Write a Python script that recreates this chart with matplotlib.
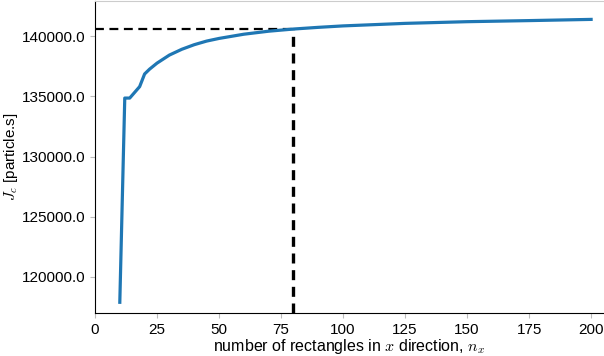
import matplotlib
matplotlib.use("Agg")
import matplotlib.pyplot as plt

# values
n_x = [10, 12, 14, 18, 20, 22, 25, 30, 35, 40, 45, 50, 60, 70, 80,
       90, 100, 125, 150, 175, 200]
J_c = [117900, 134850, 134850, 135800, 136850, 137250, 137750, 138420,
       138900, 139280, 139580, 139800, 140150, 140400, 140580,
       140720, 140840, 141050, 141190, 141280, 141380]
n_sel = 80
J_sel = 140580

plt.rcParams["font.family"] = "Liberation Sans"
plt.rcParams["mathtext.fontset"] = "cm"

fig = plt.figure(figsize=(6.04, 3.56), dpi=100)
ax = fig.add_axes([95 / 604, 1 - 313 / 356, 1 - 95 / 604, 312 / 356])

ax.plot(n_x, J_c, color="#1f77b4", lw=2.3, zorder=3)
ax.plot([0, n_sel], [J_sel, J_sel], color="black", ls=(0, (4, 2.5)), lw=1.6, zorder=2)
ax.plot([n_sel, n_sel], [117010, J_sel], color="black", ls=(0, (3, 2)), lw=2.4, zorder=2)

ax.set_xlim(0, 205.2)
ax.set_ylim(117010, 142907)
ax.set_xticks([0, 25, 50, 75, 100, 125, 150, 175, 200])
ax.set_yticks([120000, 125000, 130000, 135000, 140000])
ax.set_yticklabels(["%.1f" % v for v in [120000, 125000, 130000, 135000, 140000]])
ax.tick_params(axis="both", colors="#bbbbbb", labelcolor="black", labelsize=11,
               length=3.5, width=0.8)

ax.spines["left"].set_color("black")
ax.spines["bottom"].set_color("black")
ax.spines["top"].set_color("#cccccc")
ax.spines["right"].set_visible(False)

ax.set_xlabel(r"number of rectangles in $x$ direction, $n_x$", fontsize=11.5, labelpad=0)
ax.set_ylabel(r"$J_c$ [particle.s]", fontsize=11, labelpad=1)

fig.savefig("out.png", dpi=100)
